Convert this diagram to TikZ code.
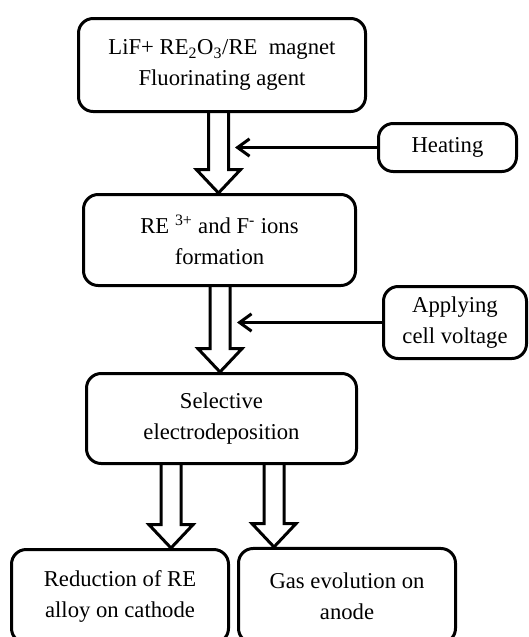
\documentclass[tikz,border=0pt]{standalone}
\usepackage{fontspec}
\setmainfont{Liberation Serif}
\usetikzlibrary{arrows.meta,calc}
\newcommand\hollowarrow[2]{%
  \draw[hollowline] let \p1=#1, \p2=#2 in
   (\x1-7.5pt,\y1) -- (\x1-7.5pt,\y2+17.5pt) -- (\x1-16.5pt,\y2+17.5pt) -- (\x1,\y2)
   -- (\x1+16.5pt,\y2+17.5pt) -- (\x1+7.5pt,\y2+17.5pt) -- (\x1+7.5pt,\y1);}
\begin{document}
\begin{tikzpicture}[x=0.75pt,y=-0.75pt,
  box/.style={draw, line width=2.25pt, rounded corners=11pt, align=center,
    inner sep=0pt, font=\fontsize{17}{23.25}\selectfont},
  hollowline/.style={line width=2.25pt, line join=miter},
  feed/.style={line width=2.25pt, -{Straight Barb[length=9pt,width=13pt]}}]
\useasboundingbox (0,0) rectangle (529,637);

\node[box, minimum width=215.25pt, minimum height=69.75pt] (b1) at (222,65)
  {LiF+ RE\textsubscript{2}O\textsubscript{3}/RE~~magnet\\Fluorinating agent};
\node[box, minimum width=204pt, minimum height=68.25pt] (b2) at (219.5,240)
  {RE \textsuperscript{3+} and F\textsuperscript{-} ions\\formation};
\node[box, minimum width=202.5pt, minimum height=67.5pt] (b3) at (221.5,418.5)
  {Selective\\electrodeposition};
\node[box, minimum width=103.5pt, minimum height=36pt] (heat) at (447.5,147.5)
  {Heating};
\node[box, minimum width=107.25pt, minimum height=54pt] (volt) at (455,322.5)
  {Applying\\cell voltage};
\node[box, minimum width=162.75pt, minimum height=70.1pt] (bl) at (120,596.25)
  {Reduction of RE\\alloy on cathode};
\node[box, minimum width=162.75pt, minimum height=70.9pt] (br) at (347,595.75)
  {Gas evolution on\\anode};

\coordinate (s1) at ($(b1.south)+(-3.5,0)$);
\coordinate (e1) at (s1 |- b2.north);
\coordinate (s2) at ($(b2.south)+(0.5,0)$);
\coordinate (e2) at (s2 |- b3.north);
\coordinate (s3) at ($(b3.south)+(-50.5,0)$);
\coordinate (e3) at (s3 |- bl.north);
\coordinate (s4) at ($(b3.south)+(52.5,0)$);
\coordinate (e4) at (s4 |- br.north);

\hollowarrow{(s1)}{(e1)}
\hollowarrow{(s2)}{(e2)}
\hollowarrow{(s3)}{(e3)}
\hollowarrow{(s4)}{(e4)}

\coordinate (t1) at ($(s1)+(16.5,0)$);
\coordinate (t2) at ($(s2)+(17,0)$);
\draw[feed] (heat.west) -- (heat.west -| t1);
\draw[feed] (volt.west) -- (volt.west -| t2);
\end{tikzpicture}
\end{document}
